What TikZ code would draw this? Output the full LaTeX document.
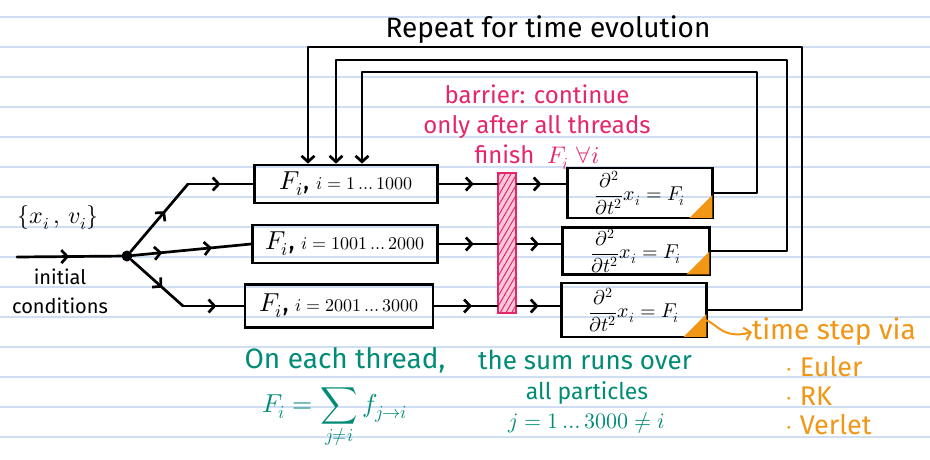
\documentclass[tikz,border=0pt]{standalone}
\usepackage{fontspec}
\usepackage{unicode-math}
\setmainfont{Fira Sans}
\setmathfont{Latin Modern Math}
\usetikzlibrary{arrows.meta,positioning,calc,patterns.meta,decorations.markings}

\definecolor{paperline}{RGB}{208,222,243}
\definecolor{barpink}{RGB}{230,38,108}
\definecolor{inkgreen}{RGB}{0,140,118}
\definecolor{inkorange}{RGB}{242,150,22}

\begin{document}
\begin{tikzpicture}[
    x=1pt, y=-1pt,
    >={Straight Barb[length=6pt,width=13pt]},
    ink/.style={line width=2.7pt, line join=round, line cap=round},
    fbox/.style={rectangle, draw, line width=2.7pt, inner sep=0pt, minimum height=38pt},
    dbox/.style={rectangle, draw, line width=2.7pt, inner sep=0pt, font=\fontsize{20}{24}\selectfont},
    barrier/.style={rectangle, draw=barpink, line width=2pt, fill=barpink!25, inner sep=0pt,
        postaction={pattern={Lines[angle=60,distance=5pt,line width=1pt]}, pattern color=barpink}},
    arrow/.style={ink, ->},
    midarrow/.style={ink, postaction={decorate},
        decoration={markings, mark=at position #1 with {\arrow{>}}}},
    midarrow/.default=0.5,
    label/.style={inner sep=0pt, align=center}
]
\useasboundingbox (0,0) rectangle (930,459);
\fill[white] (0,0) rectangle (930,459);
% ruled paper
\foreach \k in {0,...,14}
    \draw[paperline, line width=1.2pt] (0,{17+30*\k}) -- (930,{17+30*\k});

% input and split
\coordinate (start) at (17,257);
\node[circle, fill, inner sep=0pt, minimum size=11pt] (split) at (127,256) {};
\coordinate (up) at (188,184);
\coordinate (down) at (183,306);
\node[label, font=\fontsize{24}{26}\selectfont] (ics) at (58,218) {$\{x_i\,,\,v_i\}$};
\node[label, font=\fontsize{20}{29}\selectfont] (init) at (60,291) {initial\\conditions};

% force boxes
\node[fbox, minimum width=183pt] (f1) at (346,184)
    {\fontsize{26}{28}\selectfont$F_i$, \fontsize{18}{20}\selectfont$i=1\ldots1000$};
\node[fbox, minimum width=185pt] (f2) at (345,244)
    {\fontsize{26}{28}\selectfont$F_i$, \fontsize{18}{20}\selectfont$i=1001\ldots2000$};
\node[fbox, minimum width=188pt, minimum height=43pt] (f3) at (339,306)
    {\fontsize{26}{28}\selectfont$F_i$, \fontsize{18}{20}\selectfont$i=2001\ldots3000$};

% barrier
\node[barrier, minimum width=18pt, minimum height=140pt] (bar) at (507,243) {};
\node[label, text=barpink, font=\fontsize{24}{30}\selectfont] (barlabel) at (537,127)
    {barrier: continue\\only after all threads\\finish \ $F_i\ \forall i$};

% update boxes
\node[dbox, minimum width=145pt, minimum height=50pt] (d1) at (640,193)
    {$\displaystyle\frac{\partial^2}{\partial t^2}x_i = F_i$};
\node[dbox, minimum width=147pt, minimum height=47pt] (d2) at (636,251)
    {$\displaystyle\frac{\partial^2}{\partial t^2}x_i = F_i$};
\node[dbox, minimum width=145pt, minimum height=54pt] (d3) at (634,310)
    {$\displaystyle\frac{\partial^2}{\partial t^2}x_i = F_i$};
\foreach \d in {d1,d2,d3}
    \fill[inkorange] ($(\d.south east)+(-1.4,-1.4)$) -- ++(-23,0) -- ++(23,-23) -- cycle;

% loop back
\node[label, font=\fontsize{28}{30}\selectfont] (repeat) at (548,30) {Repeat for time evolution};
\coordinate (r1) at (757,72);  \coordinate (l1) at (362,72);
\coordinate (r2) at (787,60);  \coordinate (l2) at (336,60);
\coordinate (r3) at (802,47);  \coordinate (l3) at (308,47);

% notes
\node[label, text=inkgreen, font=\fontsize{28}{30}\selectfont] (onthread) at (345,360) {On each thread,};
\node[label, text=inkgreen, font=\fontsize{26}{28}\selectfont] (sumruns) at (585,360) {the sum runs over};
\node[label, text=inkgreen, font=\fontsize{23}{28}\selectfont] (allpart) at (587,393) {all particles};
\node[label, text=inkgreen, font=\fontsize{22}{24}\selectfont] (jrange) at (587,423) {$j=1\ldots3000\neq i$};
\node[label, text=inkgreen, font=\fontsize{26}{28}\selectfont] (fsum) at (335,418)
    {$\displaystyle F_i=\sum_{j\neq i} f_{j\to i}$};
\node[label, text=inkorange, font=\fontsize{28}{30}\selectfont] (timestep) at (834,332) {time step via};
\node[label, text=inkorange, font=\fontsize{27}{29}\selectfont, anchor=west, align=left] (methods) at (785,396)
    {$\cdot$\ Euler\\$\cdot$\ RK\\$\cdot$\ Verlet};

% connectors
\draw[midarrow] (start) -- (split);
\draw[midarrow=0.6] (split) -- (up);
\draw[midarrow=0.5] (up) -- (f1.west);
\draw[ink, postaction={decorate}, decoration={markings,
    mark=at position 0.25 with {\arrow{>}}, mark=at position 0.67 with {\arrow{>}}}] (split) -- (f2.west);
\draw[midarrow=0.6] (split) -- (down);
\draw[midarrow=0.55] (down) -- (f3.west);

\foreach \r in {1,2,3} {
    \draw[midarrow=0.6] (f\r.east) -- (bar.west |- f\r.east);
    \draw[midarrow=0.5] (bar.east |- f\r.east) -- (d\r.west |- f\r.east);
}

\draw[arrow] (d1.east) -| (r1) -- (l1) -- (f1.north -| l1);
\draw[arrow] (d2.east) -| (r2) -- (l2) -- (f1.north -| l2);
\draw[arrow] (d3.east) -| (r3) -- (l3) -- (f1.north -| l3);

\coordinate (tri3) at (705,320);
\draw[ink, inkorange, line width=2pt, ->] (tri3) .. controls (716,322) and (722,340) .. (timestep.west);
\end{tikzpicture}
\end{document}
